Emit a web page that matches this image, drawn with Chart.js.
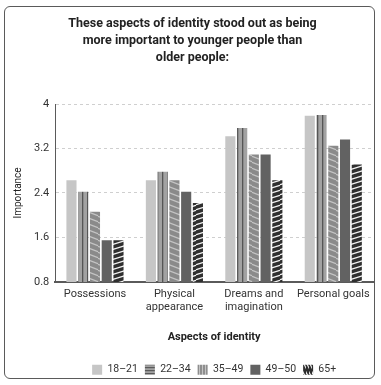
<!DOCTYPE html>
<html>
<head>
<meta charset="utf-8">
<script src="https://cdn.jsdelivr.net/npm/chart.js@4/dist/chart.umd.min.js"></script>
<style>
  html, body { margin: 0; padding: 0; background: #fff; }
  #wrap { position: relative; width: 381px; height: 385px; }
  #frame { position: absolute; left: 4px; top: 6px; width: 371px; height: 373px;
           border: 1px solid #5a5a5a; border-radius: 6px; box-sizing: border-box; }
  canvas { position: absolute; left: 0; top: 0; }
</style>
</head>
<body>
<div id="wrap">
  <div id="frame"></div>
  <canvas id="chart" width="381" height="385"></canvas>
</div>
<script>
// Mean importance ratings by age group for each aspect of identity
const categories = [
  'Possessions',
  ['Physical', 'appearance'],
  ['Dreams and', 'imagination'],
  'Personal goals'
];
const ageGroups = ['18–21', '22–34', '35–49', '49–50', '65+'];
const age18to21 = [2.63, 2.63, 3.42, 3.79];
const age22to34 = [2.42, 2.78, 3.57, 3.80];
const age35to49 = [2.06, 2.63, 3.09, 3.25];
const age49to50 = [1.55, 2.42, 3.09, 3.36];
const age65plus = [1.55, 2.22, 2.63, 2.91];
const yTicks = [0.8, 1.6, 2.4, 3.2, 4];

const FONT = "Roboto, 'Liberation Sans', sans-serif";

// Helpers that build small repeating tiles for hatched fills
function tile(w, h, draw) {
  const c = document.createElement('canvas');
  c.width = w; c.height = h;
  const g = c.getContext('2d');
  draw(g, w, h);
  return g.createPattern(c, 'repeat');
}
function slanted(base, stripe, w, h, lw, rising) {
  return tile(w, h, (g) => {
    g.fillStyle = base; g.fillRect(0, 0, w, h);
    g.strokeStyle = stripe; g.lineWidth = lw;
    for (const dy of [-h, 0, h]) {
      g.beginPath();
      if (rising) { g.moveTo(-1, h + dy); g.lineTo(w + 1, dy); }
      else { g.moveTo(-1, dy); g.lineTo(w + 1, h + dy); }
      g.stroke();
    }
  });
}

const solidLight = '#c6c6c6';
const solidDark = '#626262';
const barred = tile(5, 4, (g) => {
  g.fillStyle = '#a2a2a2'; g.fillRect(0, 0, 5, 4);
  g.fillStyle = '#555555'; g.fillRect(2, 0, 1.3, 4);
});
const lightSlant = slanted('#8a8a8a', '#c4c4c4', 14, 6, 1.4, false);
const darkSlant = slanted('#2f2f2f', '#f2f2f2', 14, 5, 1.3, true);

// Legend swatches use their own orientation of the hatching
const legendBarred = tile(4, 3, (g) => {
  g.fillStyle = '#a2a2a2'; g.fillRect(0, 0, 4, 3);
  g.fillStyle = '#5a5a5a'; g.fillRect(0, 1, 4, 1.2);
});
const legendLight = tile(3, 4, (g) => {
  g.fillStyle = '#8e8e8e'; g.fillRect(0, 0, 3, 4);
  g.fillStyle = '#c4c4c4'; g.fillRect(1, 0, 1, 4);
});
const legendDark = slanted('#2f2f2f', '#f2f2f2', 3, 10, 1.1, false);

const fills = [solidLight, barred, lightSlant, solidDark, darkSlant];
const legendFills = [solidLight, legendBarred, legendLight, solidDark, legendDark];
const series = [age18to21, age22to34, age35to49, age49to50, age65plus];

new Chart(document.getElementById('chart'), {
  type: 'bar',
  data: {
    labels: categories,
    datasets: series.map((values, i) => ({
      label: ageGroups[i],
      data: values,
      backgroundColor: fills[i],
      borderWidth: 0,
      barPercentage: 0.86,
      categoryPercentage: 0.74
    }))
  },
  options: {
    responsive: false,
    animation: false,
    devicePixelRatio: 1,
    layout: { padding: { top: 11, left: 12, right: 8, bottom: 0 } },
    plugins: {
      title: {
        display: true,
        text: [
          'These aspects of identity stood out as being',
          'more important to younger people than',
          'older people:'
        ],
        color: '#222',
        font: { family: FONT, size: 12.5, weight: 'bold', lineHeight: 1.36 },
        padding: { top: 4, bottom: 38 }
      },
      legend: {
        position: 'bottom',
        fullSize: false,
        labels: {
          color: '#333',
          font: { family: FONT, size: 10.5 },
          boxWidth: 10,
          boxHeight: 10,
          padding: 7,
          generateLabels(chart) {
            const items = Chart.defaults.plugins.legend.labels.generateLabels(chart);
            items.forEach((it, i) => {
              it.fillStyle = legendFills[i];
              it.lineWidth = 0;
              it.strokeStyle = 'rgba(0,0,0,0)';
            });
            return items;
          }
        }
      },
      tooltip: { enabled: false }
    },
    scales: {
      x: {
        grid: { display: false, drawTicks: false },
        border: { color: '#5a5a5a', width: 2 },
        ticks: { color: '#333', font: { family: FONT, size: 11 }, maxRotation: 0, padding: 6 },
        title: {
          display: true,
          text: 'Aspects of identity',
          color: '#222',
          font: { family: FONT, size: 11, weight: 'bold' },
          padding: { top: 10, bottom: 14 }
        }
      },
      y: {
        min: 0.8,
        max: 4,
        afterBuildTicks(axis) { axis.ticks = yTicks.map(v => ({ value: v })); },
        grid: { color: '#cfcfcf', tickLength: 4, tickColor: 'rgba(0,0,0,0)' },
        border: { color: '#5a5a5a', width: 1, dash: [3, 3] },
        ticks: {
          color: '#333',
          font: { family: FONT, size: 11 },
          padding: 2,
          callback: (v) => String(Math.round(v * 10) / 10)
        },
        title: {
          display: true,
          text: 'Importance',
          color: '#222',
          font: { family: FONT, size: 10 },
          padding: { top: 0, bottom: 8 }
        }
      }
    }
  }
});
</script>
</body>
</html>
